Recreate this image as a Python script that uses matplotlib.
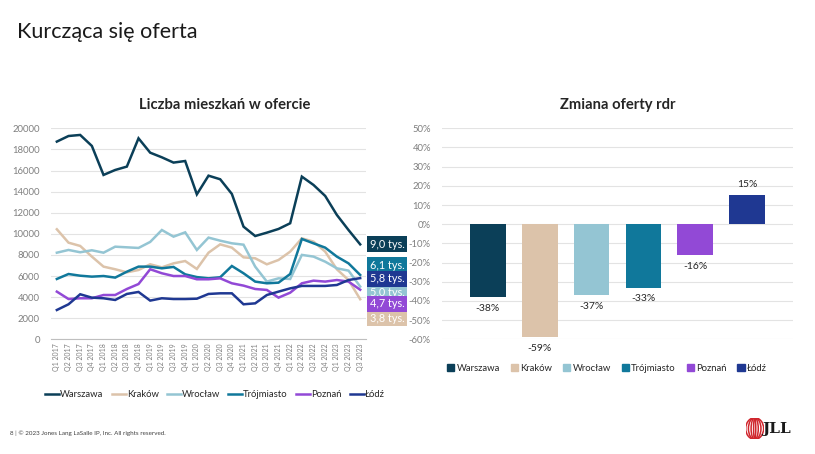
import numpy as np
import matplotlib.pyplot as plt
import matplotlib.transforms as mtransforms
from matplotlib.patches import Ellipse

plt.rcParams['font.family'] = ['Lato', 'DejaVu Sans']

# ── Dane ─────────────────────────────────────────────────────────────────────
quarters = [f"Q{q} {y}" for y in range(2017, 2024) for q in range(1, 5)][:27]

cities = ["Warszawa", "Kraków", "Wrocław", "Trójmiasto", "Poznań", "Łódź"]
colors = ["#0b3f58", "#dcc3aa", "#94c5d3", "#10789b", "#9249d6", "#1f3892"]

warszawa = [18740, 19270, 19370, 18330, 15580, 16050, 16370, 19050, 17690, 17250,
            16750, 16900, 13740, 15510, 15170, 13780, 10680, 9790, 10110, 10460,
            11000, 15420, 14630, 13590, 11790, 10360, 9000]
krakow = [10430, 9160, 8850, 7840, 6890, 6640, 6350, 6570, 7110, 6820,
          7200, 7420, 6670, 8210, 9000, 8690, 7770, 7680, 7110, 7520,
          8310, 9570, 9260, 8310, 6640, 5620, 3800]
wroclaw = [8210, 8470, 8250, 8440, 8210, 8780, 8720, 8660, 9230, 10360,
           9730, 10140, 8470, 9640, 9350, 9100, 8970, 6890, 5470, 5780,
           5720, 8000, 7840, 7360, 6730, 6510, 5000]
trojmiasto = [5720, 6190, 6030, 5940, 6000, 5850, 6410, 6890, 6890, 6730,
              6860, 6160, 5900, 5780, 5880, 6950, 6260, 5470, 5310, 5370,
              6190, 9510, 9100, 8690, 7840, 7200, 6100]
poznan = [4520, 3820, 3890, 3890, 4200, 4200, 4770, 5240, 6640, 6260,
          6000, 6000, 5690, 5690, 5780, 5310, 5090, 4770, 4680, 3950,
          4420, 5310, 5560, 5470, 5620, 5470, 4700]
lodz = [2780, 3320, 4270, 3950, 3890, 3730, 4300, 4490, 3670, 3890,
        3820, 3820, 3850, 4300, 4360, 4360, 3320, 3410, 4200, 4520,
        4830, 5060, 5060, 5060, 5150, 5620, 5800]

series = [warszawa, krakow, wroclaw, trojmiasto, poznan, lodz]
end_labels = ["9,0 tys.", "3,8 tys.", "5,0 tys.", "6,1 tys.", "4,7 tys.", "5,8 tys."]
end_label_y = [9030, 2020, 4480, 7040, 3350, 5720]   # rozsunięte, żeby się nie nakładały

change = [-38, -59, -37, -33, -16, 15]
change_labels = ["-38%", "-59%", "-37%", "-33%", "-16%", "15%"]

GRID = "#e3e3e3"
TICK = "#7f7f7f"
TEXT = "#262626"

fig = plt.figure(figsize=(8.15, 4.54), dpi=100)
fig.text(0.021, 0.93, "Kurcząca się oferta", fontsize=15.5, color="#1a1a1a", va="center")

# ── Lewy wykres: liczba mieszkań ─────────────────────────────────────────────
ax = fig.add_axes([0.0626, 0.2526, 0.3865, 0.4648])
x = np.arange(len(quarters))
for s, c, name in zip(series, colors, cities):
    ax.plot(x, s, color=c, lw=1.8, label=name, solid_joinstyle="miter")

ax.set_xlim(-0.5, len(quarters) - 0.5)
ax.set_ylim(0, 20000)
ax.set_yticks(range(0, 20001, 2000))
ax.set_xticks(x)
ax.set_xticklabels(quarters, rotation=90, fontsize=5, color=TICK)
ax.tick_params(axis="y", labelsize=6.8, colors=TICK, length=0, pad=8)
ax.tick_params(axis="x", length=0, pad=3)
ax.grid(axis="y", color=GRID, lw=0.8)
ax.set_axisbelow(True)
for side in ["top", "right", "left"]:
    ax.spines[side].set_visible(False)
ax.spines["bottom"].set_color("#bfbfbf")
ax.set_title("Liczba mieszkań w ofercie", fontsize=10.6, fontweight="bold",
             color=TEXT, pad=14, x=0.55)

trans = mtransforms.blended_transform_factory(ax.transAxes, ax.transData)
for lab, ly, c in zip(end_labels, end_label_y, colors):
    ax.text(1.012, ly, lab, transform=trans, fontsize=7.8, color="white",
            va="center", ha="left", clip_on=False,
            bbox=dict(boxstyle="square,pad=0.25", fc=c, ec="none"))

ax.legend(loc="upper center", bbox_to_anchor=(0.52, -0.2), ncol=6, frameon=False,
          fontsize=6.8, handlelength=1.5, handletextpad=0.1, columnspacing=0.85,
          labelcolor=TEXT)

# ── Prawy wykres: zmiana rdr ─────────────────────────────────────────────────
bx = fig.add_axes([0.5423, 0.2526, 0.4307, 0.4648])
xb = np.arange(len(cities))
bx.bar(xb, change, width=0.69, color=colors)
for xi, v, lab in zip(xb, change, change_labels):
    off = -3.5 if v < 0 else 3.5
    bx.text(xi, v + off, lab, ha="center", va="top" if v < 0 else "bottom",
            fontsize=7.5, color=TEXT)

bx.set_xlim(-0.885, len(cities) - 1 + 0.885)
bx.set_ylim(-60, 50)
bx.set_yticks(range(-60, 51, 10))
bx.set_yticklabels([f"{t}%" for t in range(-60, 51, 10)])
bx.set_xticks([])
bx.tick_params(axis="y", labelsize=6.8, colors=TICK, length=0, pad=8)
bx.grid(axis="y", color=GRID, lw=0.8)
bx.set_axisbelow(True)
for side in ["top", "right", "left", "bottom"]:
    bx.spines[side].set_visible(False)
bx.set_title("Zmiana oferty rdr", fontsize=10.6, fontweight="bold", color=TEXT, pad=14)

handles = [plt.Rectangle((0, 0), 1, 1, color=c) for c in colors]
bx.legend(handles, cities, loc="upper center", bbox_to_anchor=(0.47, -0.075), ncol=6,
          frameon=False, fontsize=6.8, handlelength=0.75, handleheight=0.75,
          handletextpad=0.25, columnspacing=1.15, labelcolor=TEXT)

# ── Stopka ───────────────────────────────────────────────────────────────────
fig.text(0.012, 0.046, "8 | © 2023 Jones Lang LaSalle IP, Inc. All rights reserved.",
         fontsize=4.5, color="#404040", va="center")
fig.text(0.935, 0.055, "JLL", fontsize=11, fontweight="bold", family="DejaVu Serif",
         color="#1a1a1a", va="center", ha="left")
logo = fig.add_axes([0.915, 0.032, 0.022, 0.048])
for w in [1.0, 0.7, 0.4, 0.12]:
    logo.add_patch(Ellipse((0.5, 0.5), w, 1.0, fc="none", ec="#d0262d", lw=1.1))
logo.set_xlim(0, 1)
logo.set_ylim(0, 1)
logo.axis("off")

fig.savefig("out.png", dpi=100)
